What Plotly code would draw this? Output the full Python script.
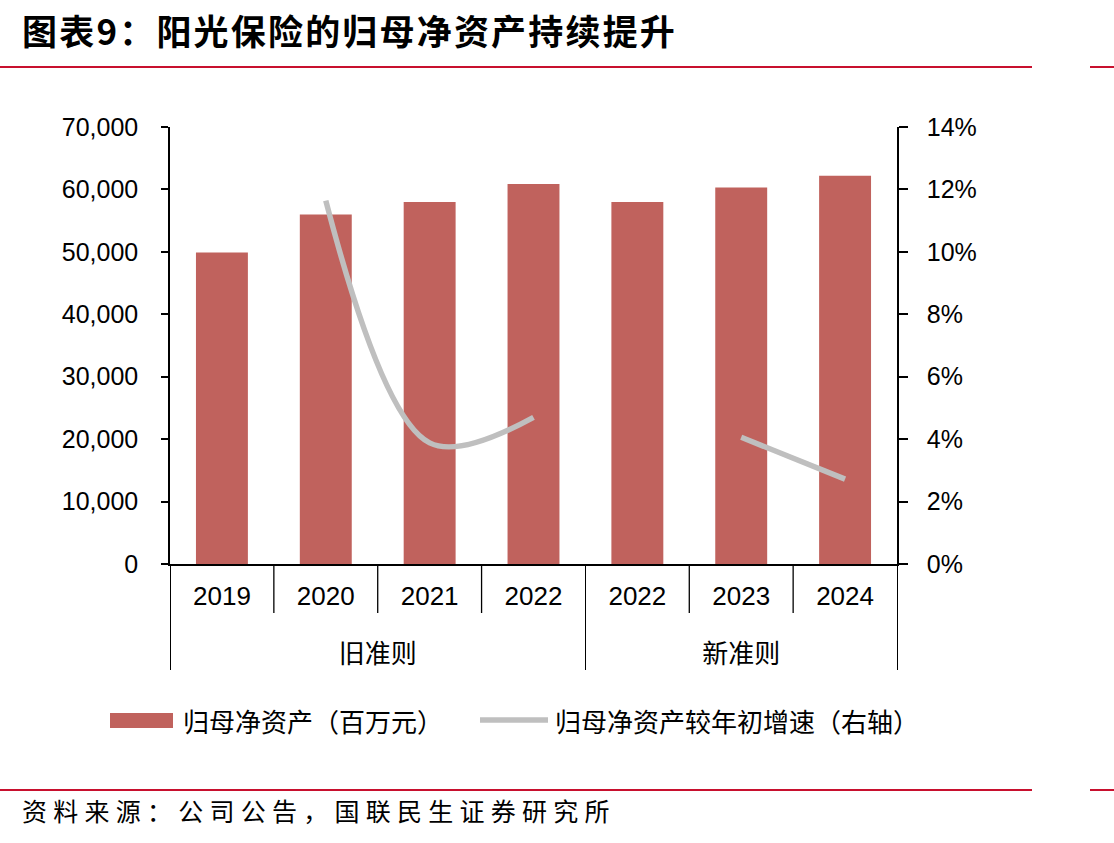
import plotly.graph_objects as go

# ---- data ----
groups = ["旧准则", "旧准则", "旧准则", "旧准则", "新准则", "新准则", "新准则"]
years = ["2019", "2020", "2021", "2022", "2022", "2023", "2024"]
net_assets = [49900, 56000, 58000, 60850, 58000, 60320, 62180]  # 百万元
growth = [None, 11.64, 3.88, 4.70, None, 4.06, 2.72]  # %

bar_name = "归母净资产（百万元）"
line_name = "归母净资产较年初增速（右轴）"
title_text = "图表9：阳光保险的归母净资产持续提升"
source_text = "资料来源：公司公告，国联民生证券研究所"

# ---- layout constants (pixels) ----
W, H = 1114, 843
L, R, T, B = 170, 217, 127, 279
PW, PH = W - L - R, H - T - B

def px(x):
    return (x - L) / PW

def py(y):
    return (H - B - y) / PH

BAR_COLOR = "#C0625D"
LINE_COLOR = "#BFBFBF"
RED = "#C8102E"
NUM_FONT = "Liberation Sans, Arial, Noto Sans CJK SC"
CJK_FONT = "Noto Sans CJK SC, DejaVu Sans"

# group labels pushed one line lower (display only)
group_labels = ["<br>" + g for g in groups]

fig = go.Figure()
fig.add_trace(go.Bar(
    x=[group_labels, years], y=net_assets, name=bar_name,
    marker=dict(color=BAR_COLOR, line=dict(width=0)),
    showlegend=False,
))
fig.add_trace(go.Scatter(
    x=[group_labels, years], y=growth, name=line_name, yaxis="y2",
    mode="lines", line=dict(color=LINE_COLOR, width=5.5, shape="spline", smoothing=1.0),
    connectgaps=False, showlegend=False,
))

shapes = []
# red rules
for yy in (67, 790):
    shapes.append(dict(type="line", xref="paper", yref="paper",
                       x0=px(0), x1=px(1032), y0=py(yy), y1=py(yy),
                       line=dict(color=RED, width=2)))
    shapes.append(dict(type="line", xref="paper", yref="paper",
                       x0=px(1090), x1=px(1114), y0=py(yy), y1=py(yy),
                       line=dict(color=RED, width=2)))
# year separators below axis
n = len(years)
for i in range(1, n):
    if groups[i] != groups[i - 1]:
        continue
    shapes.append(dict(type="line", xref="paper", yref="paper",
                       x0=i / n, x1=i / n, y0=0, y1=py(613),
                       line=dict(color="black", width=1.3)))

# manual legend
shapes.append(dict(type="rect", xref="paper", yref="paper",
                   x0=px(110), x1=px(173), y0=py(728), y1=py(713),
                   fillcolor=BAR_COLOR, line=dict(width=0)))
shapes.append(dict(type="line", xref="paper", yref="paper",
                   x0=px(480), x1=px(548), y0=py(720), y1=py(720),
                   line=dict(color=LINE_COLOR, width=5.5)))

annotations = [
    dict(text="<b>" + "\u200a".join(title_text) + "</b>", xref="paper", yref="paper",
         x=px(20), y=py(29), xanchor="left", yanchor="middle", showarrow=False,
         font=dict(family=CJK_FONT, size=35, color="black")),
    dict(text="\u2005".join(source_text), xref="paper", yref="paper",
         x=px(20), y=py(810), xanchor="left", yanchor="middle", showarrow=False,
         font=dict(family=CJK_FONT, size=25, color="black")),
    dict(text=bar_name, xref="paper", yref="paper",
         x=px(181), y=py(720), xanchor="left", yanchor="middle", showarrow=False,
         font=dict(family=CJK_FONT, size=26, color="black")),
    dict(text=line_name, xref="paper", yref="paper",
         x=px(553), y=py(720), xanchor="left", yanchor="middle", showarrow=False,
         font=dict(family=CJK_FONT, size=26, color="black")),
]

fig.update_layout(
    width=W, height=H,
    margin=dict(l=L, r=R, t=T, b=B, autoexpand=False),
    paper_bgcolor="white", plot_bgcolor="white",
    bargap=0.5,
    showlegend=False,
    shapes=shapes,
    annotations=annotations,
    xaxis=dict(
        type="multicategory",
        showline=True, linecolor="black", linewidth=1.5,
        ticks="", showgrid=False,
        showdividers=True, dividercolor="black", dividerwidth=1.3,
        ticklabelstandoff=8,
        tickfont=dict(family=NUM_FONT, size=26, color="black"),
    ),
    yaxis=dict(
        range=[0, 70000], dtick=10000, tickformat=",",
        showline=True, linecolor="black", linewidth=1.5,
        ticks="outside", ticklen=7, tickcolor="black", tickwidth=1.5,
        showgrid=False, zeroline=False,
        ticklabelstandoff=18,
        tickfont=dict(family=NUM_FONT, size=25, color="black"),
    ),
    yaxis2=dict(
        range=[0, 14], dtick=2, ticksuffix="%", overlaying="y", side="right",
        showline=True, linecolor="black", linewidth=1.5,
        ticks="outside", ticklen=9, tickcolor="black", tickwidth=1.5,
        showgrid=False, zeroline=False,
        ticklabelstandoff=14,
        tickfont=dict(family=NUM_FONT, size=25, color="black"),
    ),
)

fig.write_html("out.html")
